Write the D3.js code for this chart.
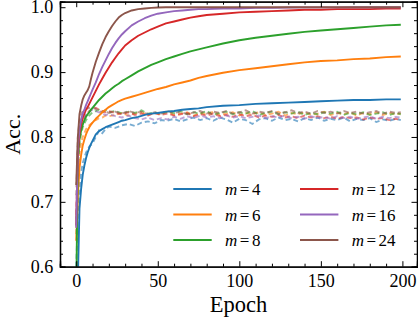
<!DOCTYPE html>
<html>
<head>
<meta charset="utf-8">
<script src="https://cdn.jsdelivr.net/npm/d3@7"></script>
<style>
  html, body { margin: 0; padding: 0; background: #fff; }
  svg { display: block; }
  svg text { font-family: "Liberation Serif", "Times New Roman", "DejaVu Serif", serif !important; }
</style>
</head>
<body>
<div id="chart"></div>
<script>
// Train (solid) and test (dashed) accuracy per m
const M_VALUES = [4, 6, 8, 12, 16, 24];
const COLORS = ["#1f77b4", "#ff7f0e", "#2ca02c", "#d62728", "#9467bd", "#8c564b"];

const EPOCHS_TRAIN = [0,1,2,3,4,5,6,7,8,9,10,12,14,16,18,20,22,24,26,28,30,34,38,42,46,50,55,60,65,70,75,80,90,100,110,120,130,140,150,160,170,180,190,199];

const train_m4  = [0.50,0.58,0.69,0.72,0.742,0.756,0.767,0.776,0.783,0.789,0.794,0.804,0.809,0.812,0.815,0.817,0.819,0.821,0.823,0.825,0.826,0.829,0.831,0.834,0.836,0.837,0.839,0.840,0.842,0.843,0.844,0.846,0.848,0.849,0.851,0.852,0.853,0.854,0.855,0.856,0.857,0.857,0.858,0.858];
const train_m6  = [0.64,0.71,0.752,0.772,0.787,0.796,0.804,0.810,0.815,0.819,0.822,0.828,0.833,0.838,0.842,0.846,0.849,0.852,0.855,0.857,0.859,0.862,0.865,0.868,0.871,0.874,0.877,0.881,0.884,0.887,0.891,0.894,0.899,0.903,0.906,0.909,0.912,0.915,0.917,0.918,0.920,0.921,0.923,0.924];
const train_m8  = [0.56,0.77,0.797,0.810,0.819,0.826,0.831,0.835,0.838,0.842,0.845,0.851,0.857,0.862,0.867,0.871,0.875,0.879,0.882,0.886,0.889,0.895,0.901,0.906,0.911,0.915,0.920,0.924,0.928,0.932,0.935,0.938,0.944,0.949,0.953,0.956,0.959,0.962,0.964,0.966,0.968,0.970,0.972,0.973];
const train_m12 = [0.664,0.775,0.805,0.820,0.830,0.836,0.842,0.846,0.851,0.856,0.861,0.871,0.881,0.890,0.899,0.907,0.915,0.922,0.929,0.935,0.941,0.949,0.956,0.961,0.966,0.970,0.975,0.978,0.981,0.984,0.986,0.988,0.990,0.992,0.993,0.994,0.995,0.996,0.996,0.997,0.997,0.997,0.998,0.998];
const train_m16 = [0.66,0.785,0.812,0.826,0.836,0.842,0.849,0.855,0.861,0.867,0.873,0.884,0.897,0.908,0.918,0.928,0.937,0.945,0.952,0.958,0.963,0.972,0.978,0.983,0.987,0.990,0.992,0.994,0.995,0.996,0.997,0.997,0.998,0.998,0.999,0.999,0.9995,0.9998,0.9998,0.9998,0.9999,0.9999,0.9999,0.9999];
const train_m24 = [0.726,0.80,0.835,0.848,0.858,0.864,0.868,0.872,0.878,0.889,0.899,0.916,0.930,0.943,0.954,0.963,0.971,0.978,0.984,0.988,0.991,0.995,0.997,0.998,0.999,0.9995,1.0,1.0,1.0,1.0,1.0,1.0,1.0,1.0,1.0,1.0,1.0,1.0,1.0,1.0,1.0,1.0,1.0,1.0];

const EPOCHS_TEST = [0,1,2,3,4,6,8,10,12,14,16,18,20,24,28,32,36,40,44,48,52,56,60,64,68,72,76,80,84,88,92,96,100,104,108,112,116,120,124,128,132,136,140,144,148,152,156,160,164,168,172,176,180,184,188,192,196,199];

const test_m4  = [0.60,0.68,0.72,0.745,0.76,0.776,0.785,0.79,0.80,0.81,0.806,0.812,0.816,0.814,0.818,0.82,0.817,0.822,0.824,0.821,0.826,0.825,0.828,0.824,0.827,0.83,0.826,0.829,0.825,0.83,0.827,0.822,0.828,0.826,0.82,0.827,0.829,0.825,0.83,0.826,0.828,0.824,0.829,0.826,0.83,0.825,0.828,0.826,0.83,0.824,0.828,0.826,0.829,0.823,0.827,0.825,0.828,0.826];
const test_m6  = [0.66,0.74,0.775,0.79,0.80,0.812,0.818,0.822,0.826,0.829,0.83,0.833,0.832,0.834,0.837,0.833,0.836,0.838,0.834,0.837,0.835,0.839,0.834,0.836,0.838,0.833,0.837,0.835,0.839,0.834,0.836,0.838,0.833,0.837,0.835,0.838,0.834,0.836,0.839,0.833,0.837,0.835,0.838,0.834,0.836,0.839,0.834,0.837,0.835,0.838,0.833,0.837,0.835,0.838,0.834,0.837,0.835,0.836];
const test_m8  = [0.65,0.75,0.79,0.805,0.815,0.826,0.833,0.838,0.84,0.842,0.839,0.841,0.838,0.84,0.836,0.839,0.837,0.841,0.836,0.838,0.835,0.839,0.837,0.84,0.835,0.838,0.836,0.84,0.834,0.837,0.839,0.835,0.838,0.836,0.84,0.834,0.837,0.839,0.835,0.838,0.836,0.839,0.834,0.837,0.835,0.838,0.836,0.839,0.834,0.837,0.835,0.838,0.834,0.836,0.838,0.834,0.837,0.835];
const test_m12 = [0.68,0.77,0.80,0.815,0.825,0.834,0.84,0.843,0.845,0.842,0.84,0.838,0.84,0.837,0.835,0.838,0.834,0.836,0.833,0.837,0.834,0.836,0.833,0.835,0.837,0.832,0.835,0.833,0.836,0.832,0.834,0.831,0.835,0.832,0.834,0.83,0.833,0.831,0.834,0.83,0.832,0.829,0.833,0.83,0.832,0.829,0.831,0.828,0.831,0.829,0.83,0.827,0.83,0.828,0.829,0.826,0.828,0.826];
const test_m16 = [0.67,0.775,0.805,0.818,0.827,0.835,0.839,0.842,0.84,0.838,0.836,0.834,0.835,0.832,0.83,0.833,0.829,0.827,0.83,0.826,0.829,0.827,0.831,0.828,0.832,0.829,0.833,0.83,0.832,0.829,0.833,0.83,0.832,0.829,0.831,0.833,0.829,0.832,0.83,0.833,0.829,0.831,0.828,0.832,0.829,0.831,0.828,0.832,0.829,0.831,0.828,0.83,0.832,0.828,0.831,0.829,0.831,0.83];
const test_m24 = [0.71,0.80,0.825,0.835,0.84,0.843,0.845,0.846,0.843,0.84,0.838,0.84,0.837,0.839,0.836,0.84,0.837,0.839,0.835,0.838,0.836,0.84,0.837,0.839,0.835,0.838,0.84,0.836,0.839,0.837,0.84,0.836,0.838,0.841,0.836,0.839,0.837,0.84,0.836,0.838,0.841,0.837,0.839,0.836,0.84,0.837,0.839,0.836,0.84,0.837,0.839,0.836,0.838,0.84,0.836,0.839,0.837,0.838];

const TRAIN = [train_m4, train_m6, train_m8, train_m12, train_m16, train_m24];
const TEST  = [test_m4, test_m6, test_m8, test_m12, test_m16, test_m24];

const X_TICKS = [0, 50, 100, 150, 200];
const Y_TICKS = [0.6, 0.7, 0.8, 0.9, 1.0];

const FONT = '"Liberation Serif", "Times New Roman", "DejaVu Serif", serif';
const W = 418, H = 320;
const m = { l: 60, r: 1, t: 1.7, b: 53.3 };

const svg = d3.select("#chart").append("svg").attr("width", W).attr("height", H);

const x = d3.scaleLinear().domain([-9.95, 208.95]).range([m.l, W - m.r]);
const y = d3.scaleLinear().domain([0.6, 1.0085]).range([H - m.b, m.t]);

svg.append("clipPath").attr("id", "plot-clip")
  .append("rect").attr("x", m.l).attr("y", m.t)
  .attr("width", W - m.r - m.l).attr("height", H - m.b - m.t);

const line = d3.line().x(d => x(d[0])).y(d => y(d[1]));
const plot = svg.append("g").attr("clip-path", "url(#plot-clip)");

// test curves (dashed, faded) underneath
TEST.forEach((vals, i) => {
  plot.append("path")
    .datum(EPOCHS_TEST.map((e, j) => [e, vals[j]]))
    .attr("d", line).attr("fill", "none")
    .attr("stroke", COLORS[i]).attr("stroke-width", 1.9)
    .attr("stroke-opacity", 0.6).attr("stroke-dasharray", "5,3");
});
TRAIN.forEach((vals, i) => {
  plot.append("path")
    .datum(EPOCHS_TRAIN.map((e, j) => [e, vals[j]]))
    .attr("d", line).attr("fill", "none")
    .attr("stroke", COLORS[i]).attr("stroke-width", 1.9)
    .attr("stroke-linejoin", "round");
});

// axes with inward ticks on all four sides
const minorX = d3.range(-10, 210, 10).filter(v => v % 50 !== 0);
const minorY = d3.range(0.62, 1.01, 0.02).filter(v => Math.abs(v * 10 - Math.round(v * 10)) > 1e-6);

function styleAxis(g) {
  g.attr("font-family", FONT);
  g.select(".domain").attr("stroke", "#000").attr("stroke-width", 1.3);
  g.selectAll(".tick line").attr("stroke", "#000").attr("stroke-width", 1);
  g.selectAll("text").attr("fill", "#000").attr("font-size", 18).style("font-family", FONT);
}

svg.append("g").attr("transform", `translate(0,${H - m.b})`)
  .call(d3.axisBottom(x).tickValues(X_TICKS).tickSize(-5.5).tickPadding(7.2).tickFormat(d3.format("d")))
  .call(styleAxis);
svg.append("g").attr("transform", `translate(0,${H - m.b})`)
  .call(d3.axisBottom(x).tickValues(minorX).tickSize(-3).tickFormat(""))
  .call(styleAxis);
svg.append("g").attr("transform", `translate(0,${m.t})`)
  .call(d3.axisTop(x).tickValues(X_TICKS).tickSize(-5.5).tickFormat(""))
  .call(styleAxis);
svg.append("g").attr("transform", `translate(0,${m.t})`)
  .call(d3.axisTop(x).tickValues(minorX).tickSize(-3).tickFormat(""))
  .call(styleAxis);

svg.append("g").attr("transform", `translate(${m.l},0)`)
  .call(d3.axisLeft(y).tickValues(Y_TICKS).tickSize(-5.5).tickPadding(6.7).tickFormat(d3.format(".1f")))
  .call(styleAxis);
svg.append("g").attr("transform", `translate(${m.l},0)`)
  .call(d3.axisLeft(y).tickValues(minorY).tickSize(-3).tickFormat(""))
  .call(styleAxis);
svg.append("g").attr("transform", `translate(${W - m.r},0)`)
  .call(d3.axisRight(y).tickValues(Y_TICKS).tickSize(-5.5).tickFormat(""))
  .call(styleAxis);
svg.append("g").attr("transform", `translate(${W - m.r},0)`)
  .call(d3.axisRight(y).tickValues(minorY).tickSize(-3).tickFormat(""))
  .call(styleAxis);

// axis titles
svg.append("text").attr("x", (m.l + W - m.r) / 2).attr("y", 311.7)
  .attr("text-anchor", "middle").attr("font-size", 22.5).style("font-family", FONT).text("Epoch");
svg.append("text").attr("transform", `translate(19.5,${(m.t + H - m.b) / 2}) rotate(-90)`)
  .attr("text-anchor", "middle").attr("font-size", 22).style("font-family", FONT).text("Acc.");

// legend, two columns of three, no frame
const legend = svg.append("g");
M_VALUES.forEach((mv, i) => {
  const col = Math.floor(i / 3), row = i % 3;
  const lx = col ? 300 : 173.3, ly = 189 + row * 25.5;
  legend.append("line").attr("x1", lx).attr("x2", lx + 38.4)
    .attr("y1", ly).attr("y2", ly)
    .attr("stroke", COLORS[i]).attr("stroke-width", 1.9);
  const t = legend.append("text").attr("x", lx + 51.7).attr("y", ly + 6)
    .attr("font-size", 17).style("font-family", FONT);
  t.append("tspan").attr("font-style", "italic").text("m");
  t.append("tspan").attr("dx", 2.5).text("=");
  t.append("tspan").attr("dx", 2.5).text(mv);
});
</script>
</body>
</html>
